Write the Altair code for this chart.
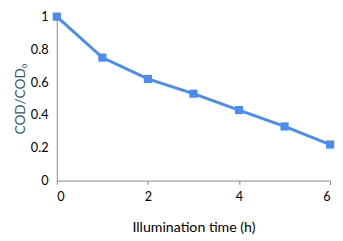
import altair as alt
import pandas as pd

time_h = [0, 1, 2, 3, 4, 5, 6]
cod_ratio = [1.0, 0.75, 0.62, 0.53, 0.43, 0.33, 0.22]

df = pd.DataFrame({"t": time_h, "v": cod_ratio})

FONT = "Lato"
BLUE = "#4A8CF0"

base = alt.Chart(df).encode(
    x=alt.X("t:Q", scale=alt.Scale(domain=[0, 6], nice=False),
            axis=alt.Axis(values=[0, 2, 4, 6], title="Illumination time (h)",
                          grid=False, domainColor="#888888", tickColor="#888888",
                          tickSize=4, labelPadding=6, labelFontSize=13,
                          labelFont=FONT, labelColor="#000000",
                          titleFont=FONT, titleFontSize=14.5, titleFontWeight="normal",
                          titleColor="#000000", titlePadding=18)),
    y=alt.Y("v:Q", scale=alt.Scale(domain=[0, 1], nice=False),
            axis=alt.Axis(values=[0, 0.2, 0.4, 0.6, 0.8, 1], title="COD/COD₀",
                          format=".1~f",
                          grid=False, domainColor="#888888", ticks=False,
                          labelPadding=9, labelFontSize=13, labelFont=FONT,
                          labelColor="#000000",
                          titleFont=FONT, titleFontSize=14, titleFontWeight="normal",
                          titleColor="#2E5A6B", titlePadding=3)),
)

line = base.mark_line(color=BLUE, strokeWidth=3)
pts = base.mark_square(color=BLUE, size=70, opacity=1)

chart = (line + pts).properties(
    width=280, height=168,
    padding={"left": 50, "top": 6, "right": 5, "bottom": 56},
    autosize=alt.AutoSizeParams(type="none"),
).configure_view(stroke=None)

chart.save("out.html", embed_options={"renderer": "svg", "actions": False})
